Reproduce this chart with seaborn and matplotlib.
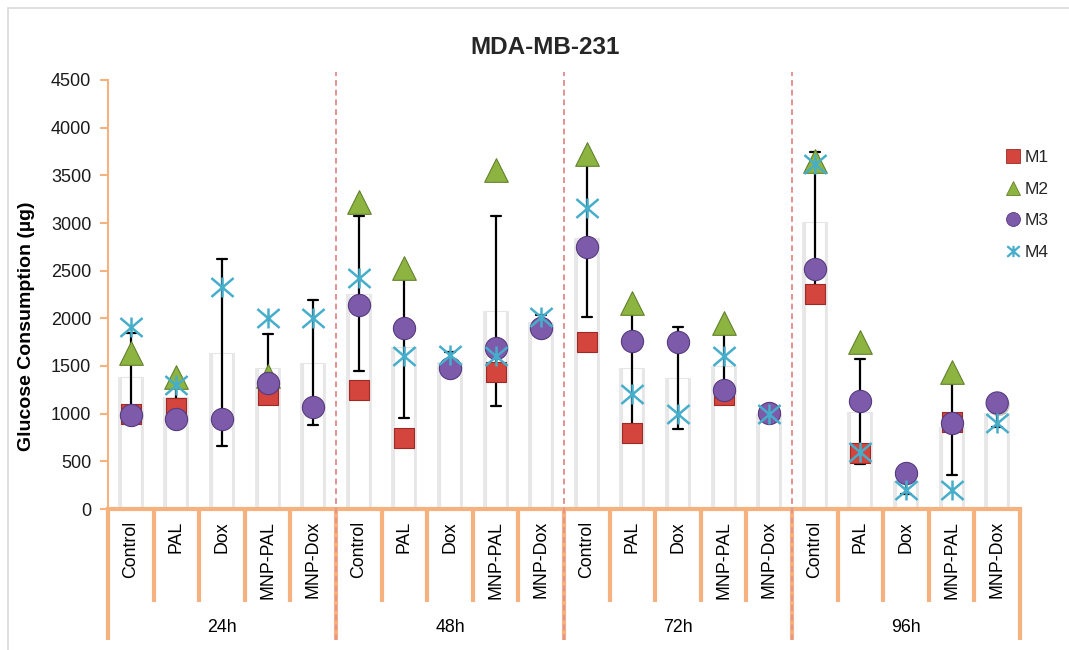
import numpy as np
import pandas as pd
import matplotlib
matplotlib.use("Agg")
import matplotlib.pyplot as plt
import matplotlib.patheffects as pe
from matplotlib import font_manager as fm
from matplotlib.lines import Line2D
from matplotlib.patches import Rectangle
from matplotlib.path import Path
from matplotlib.transforms import blended_transform_factory
import seaborn as sns

# ---------------- data ----------------
times = ["24h", "48h", "72h", "96h"]
treatments = ["Control", "PAL", "Dox", "MNP-PAL", "MNP-Dox"]

# glucose consumption (µg); rows = time point, columns = treatment
m1 = [[1000, 1060, np.nan, 1195, np.nan],
      [1248, 745, np.nan, 1437, np.nan],
      [1752, 797, np.nan, 1195, np.nan],
      [2255, 590, np.nan, 913, np.nan]]
m2 = [[1636, 1385, np.nan, 1400, np.nan],
      [3220, 2528, np.nan, 3560, np.nan],
      [3724, 2161, np.nan, 1951, np.nan],
      [3650, 1752, np.nan, 1437, np.nan]]
m3 = [[990, 944, 945, 1320, 1070],
      [2140, 1899, 1479, 1689, 1899],
      [2750, 1762, 1752, 1248, 1005],
      [2518, 1133, 378, 902, 1112]]
m4 = [[1909, 1300, 2332, 2000, 2000],
      [2423, 1605, 1615, 1605, 2014],
      [3157, 1206, 997, 1605, 995],
      [3620, 600, 199, 199, 902]]

series_names = ["M1", "M2", "M3", "M4"]
y_ticks = [0, 500, 1000, 1500, 2000, 2500, 3000, 3500, 4000, 4500]

# ---------------- long-form table ----------------
rows = []
keys = []
for ti, t in enumerate(times):
    for ci, c in enumerate(treatments):
        key = f"{t}|{c}"
        keys.append(key)
        for name, arr in zip(series_names, [m1, m2, m3, m4]):
            rows.append({"key": key, "time": t, "treatment": c,
                         "series": name, "value": arr[ti][ci]})
df = pd.DataFrame(rows)
df_valid = df.dropna(subset=["value"])

# ---------------- style ----------------
sns.set_theme(style="white")


def has_font(name):
    try:
        fm.findfont(fm.FontProperties(family=name), fallback_to_default=False)
        return True
    except ValueError:
        return False


BASE = "Liberation Sans"
if has_font("Liberation Sans Narrow"):
    NARROW = "Liberation Sans Narrow"
    title_size, cat_size, grp_size = 20, 15, 14.5
else:
    NARROW = BASE
    title_size, cat_size, grp_size = 17.5, 12.8, 12.8

plt.rcParams["font.family"] = [BASE, "DejaVu Sans"]

ORANGE = "#F5B27F"
DASH_RED = "#E39393"
colors = {"M1": "#D3453D", "M2": "#8DB440", "M3": "#7E5AAA", "M4": "#46AECB"}
edges = {"M1": "#9E2A25", "M2": "#62812A", "M3": "#553B7E", "M4": "#46AECB"}

# asterisk: vertical bar plus an X
star = Path([(0, -0.9), (0, 0.9), (-1, -0.85), (1, 0.85), (-1, 0.85), (1, -0.85)],
            [Path.MOVETO, Path.LINETO, Path.MOVETO, Path.LINETO,
             Path.MOVETO, Path.LINETO])
markers = {"M1": "s", "M2": "^", "M3": "o", "M4": star}
msizes = {"M1": 14.5, "M2": 17, "M3": 16, "M4": 16}

fig = plt.figure(figsize=(10.69, 6.5), dpi=100)
W, H = 1069, 650
ax = fig.add_axes([108 / W, 1 - 509 / H, (1020 - 108) / W, (509 - 80) / H])

# mean bars with SD error bars
sns.barplot(data=df_valid, x="key", y="value", order=keys, color="white",
            errorbar="sd", capsize=0.22, width=0.44,
            edgecolor="#E6E6E6", linewidth=0.8,
            err_kws={"color": "black", "linewidth": 1.6}, ax=ax, zorder=1)
for p in ax.patches:
    p.set_path_effects([
        pe.SimplePatchShadow(offset=(2.2, 0), shadow_rgbFace="#9a9a9a", alpha=0.22),
        pe.SimplePatchShadow(offset=(-2.2, 0), shadow_rgbFace="#9a9a9a", alpha=0.22),
        pe.Normal()])
    p.set_facecolor("white")

# individual measurements
for name in series_names:
    sub = df_valid[df_valid["series"] == name]
    sns.stripplot(data=sub, x="key", y="value", order=keys, jitter=False,
                  marker=markers[name], color=colors[name], size=msizes[name],
                  edgecolor=edges[name], linewidth=1.8 if name == "M4" else 0.8,
                  ax=ax, zorder=5)
    if name in ("M1", "M3"):
        coll = ax.collections[-1]
        coll.set_path_effects([
            pe.SimplePatchShadow(offset=(1, -1.5), shadow_rgbFace="#555555", alpha=0.35),
            pe.Normal()])

# ---------------- axes ----------------
n = len(keys)
ax.set_xlim(-0.5, n - 0.5)
ax.set_ylim(0, 4500)
ax.set_yticks(y_ticks)
ax.set_yticklabels([str(v) for v in y_ticks], fontsize=13, color="#1a1a1a")
ax.set_xticks([])
ax.set_xlabel("")
ax.set_ylabel("Glucose Consumption (µg)", fontsize=14, fontweight="bold",
              color="black")
ax.yaxis.set_label_coords(-(108 - 35) / (1020 - 108), (509 - 326) / (509 - 80))
for s in ["top", "right"]:
    ax.spines[s].set_visible(False)
ax.spines["left"].set_color(ORANGE)
ax.spines["left"].set_linewidth(1.5)
ax.spines["bottom"].set_color(ORANGE)
ax.spines["bottom"].set_linewidth(3)
ax.tick_params(axis="y", direction="out", length=6, width=1.5, color=ORANGE,
               pad=6, left=True)

fig.text(545 / W, 1 - 47 / H, "MDA-MB-231", fontsize=title_size,
         fontweight="bold", family=[NARROW, "DejaVu Sans"],
         ha="center", va="center")

# two-level category axis
trans = blended_transform_factory(ax.transData, ax.transAxes)
ax_h = 509 - 80
cat_bottom = -(602 - 509) / ax_h
grp_bottom = -(640 - 509) / ax_h
n_per = len(treatments)
for i in range(n + 1):
    xb = i - 0.5
    is_group = (i % n_per == 0)
    ax.plot([xb, xb], [0, grp_bottom if is_group else cat_bottom],
            transform=trans, color=ORANGE, lw=3, clip_on=False,
            solid_capstyle="butt", zorder=3)
for i, key in enumerate(keys):
    label = key.split("|")[1]
    ax.text(i, -(521 - 509) / ax_h, label, transform=trans, rotation=90,
            ha="center", va="top", fontsize=cat_size,
            family=[NARROW, "DejaVu Sans"], color="black")
for gi, t in enumerate(times):
    xc = gi * n_per + (n_per - 1) / 2
    ax.text(xc, -(627 - 509) / ax_h, t, transform=trans, ha="center",
            va="center", fontsize=grp_size, family=[NARROW, "DejaVu Sans"],
            color="black")

# dashed separators between time points
for gi in range(1, len(times)):
    xb = gi * n_per - 0.5
    ax.plot([xb, xb], [grp_bottom, (509 - 72) / ax_h], transform=trans,
            color=DASH_RED, lw=1.4, ls=(0, (3, 2)), clip_on=False, zorder=4)

# legend
handles = [Line2D([], [], ls="none", marker=markers[nm], color=colors[nm],
                  markeredgecolor=edges[nm], markersize=10 if nm != "M4" else 9,
                  markeredgewidth=1.6 if nm == "M4" else 0.6)
           for nm in series_names]
fig.legend(handles, series_names, loc="upper left",
           bbox_to_anchor=(998 / W, 1 - 143 / H), frameon=False,
           fontsize=12.5, labelspacing=0.95, handlelength=0.9,
           handletextpad=0.25, borderaxespad=0)

# outer frame
fig.patches.append(Rectangle((8 / W, -0.2), 1.2, 1.2 - 8 / H,
                             transform=fig.transFigure, fill=False,
                             edgecolor="#D9D9D9", lw=1.2, zorder=0))

fig.savefig("out.png", dpi=100)
